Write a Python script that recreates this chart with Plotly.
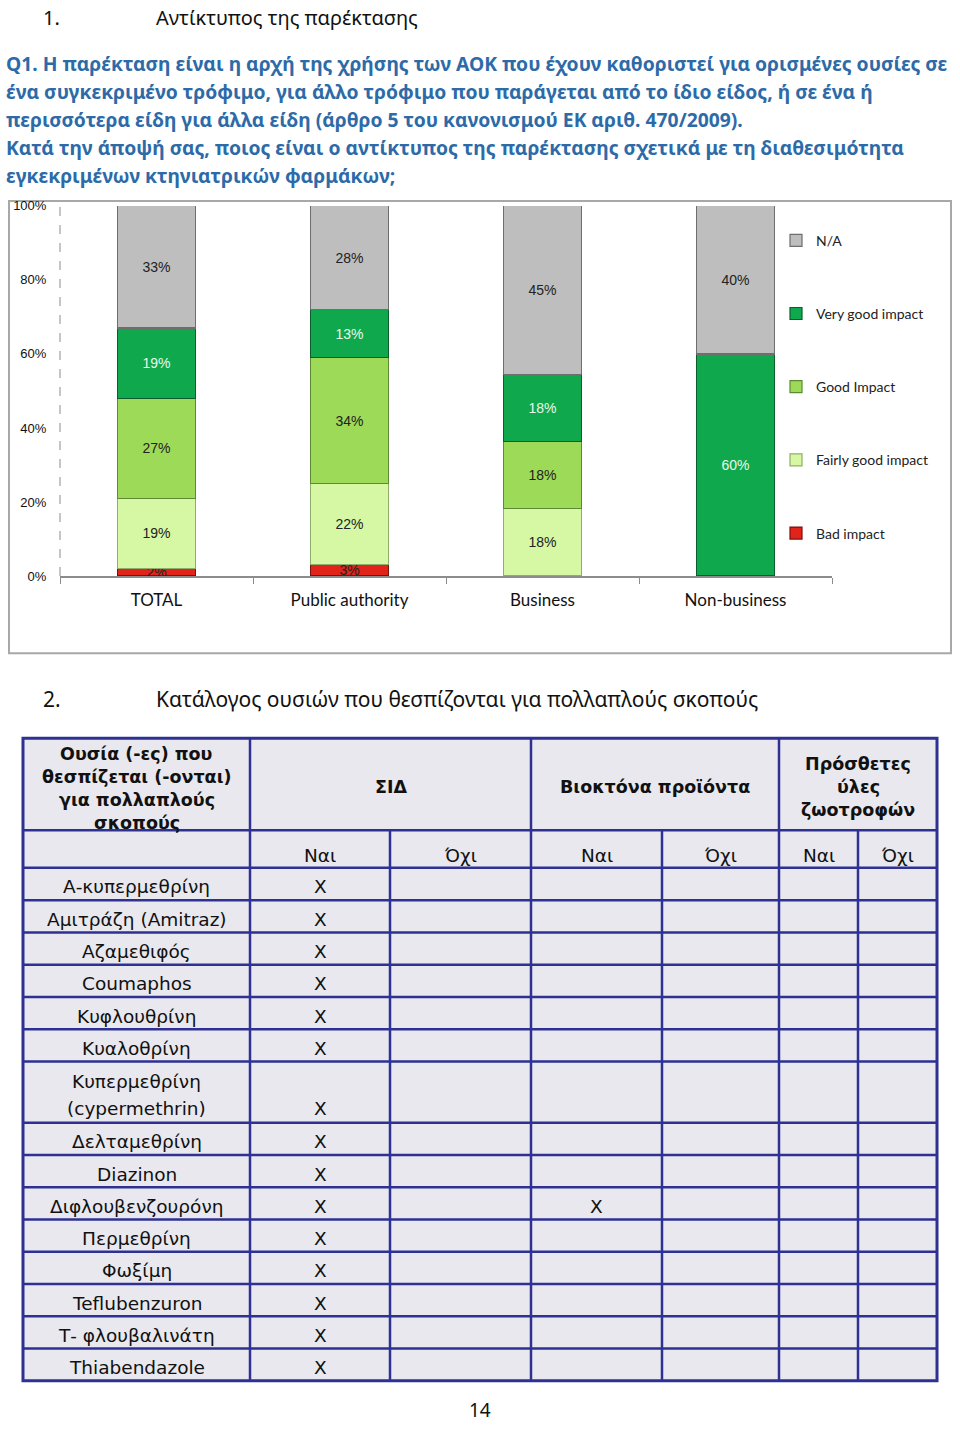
import plotly.graph_objects as go

W, H = 960, 1430
def X(px): return px / W
def Y(py): return 1 - py / H

# ---------------- chart data ----------------
categories = ["TOTAL", "Public authority", "Business", "Non-business"]
bad = [2, 3, 0, 0]
fairly_good = [19, 22, 18, 0]
good = [27, 34, 18, 0]
very_good = [19, 13, 18, 60]
not_available = [33, 28, 45, 40]
series_names = ["Bad impact", "Fairly good impact", "Good Impact", "Very good impact", "N/A"]
y_ticks = [0, 20, 40, 60, 80, 100]
y_tick_labels = ["0%", "20%", "40%", "60%", "80%", "100%"]

# ---------------- table data ----------------
first_header = ["Ουσία (-ες) που", "θεσπίζεται (-ονται)", "για πολλαπλούς", "σκοπούς"]
group_headers = [["ΣΙΔ"], ["Βιοκτόνα προϊόντα"], ["Πρόσθετες", "ύλες", "ζωοτροφών"]]
sub_headers = ["Ναι", "Όχι", "Ναι", "Όχι", "Ναι", "Όχι"]
substances = [["Α-κυπερμεθρίνη"], ["Αμιτράζη (Amitraz)"], ["Αζαμεθιφός"], ["Coumaphos"],
              ["Κυφλουθρίνη"], ["Κυαλοθρίνη"], ["Κυπερμεθρίνη", "(cypermethrin)"],
              ["Δελταμεθρίνη"], ["Diazinon"], ["Διφλουβενζουρόνη"], ["Περμεθρίνη"],
              ["Φωξίμη"], ["Teflubenzuron"], ["Τ- φλουβαλινάτη"], ["Thiabendazole"]]
sid_yes = ["X"] * 15
sid_no = [""] * 15
biocide_yes = ["", "", "", "", "", "", "", "", "", "X", "", "", "", "", ""]
biocide_no = [""] * 15
feed_yes = [""] * 15
feed_no = [""] * 15

# ---------------- figure ----------------
colors = ["#E2231A", "#D6F8A4", "#9DDA58", "#0FA84C", "#BEBEBE"]
edges = ["#7A1010", "#8FAE6A", "#5E8A33", "#0A5E2C", "#6E6E6E"]
text_colors = ["#222222", "#222222", "#222222", "#EAF7EA", "#222222"]
series = [bad, fairly_good, good, very_good, not_available]
ranks = [5, 4, 3, 2, 1]

fig = go.Figure()
for i, (name, vals) in enumerate(zip(series_names, series)):
    fig.add_trace(go.Bar(
        x=categories, y=vals, name=name,
        marker=dict(color=colors[i], line=dict(color=edges[i], width=1.2)),
        text=[f"{v}%" if v else "" for v in vals],
        textposition="inside", insidetextanchor="middle",
        textfont=dict(family="Liberation Sans, Arial", size=14, color=text_colors[i]),
        legendgroup=name, legendrank=ranks[i],
        hoverinfo="skip",
    ))

head_font = "Noto Sans, Open Sans"

fig.update_layout(
    width=W, height=H,
    margin=dict(l=0, r=0, t=0, b=0),
    paper_bgcolor="white", plot_bgcolor="white",
    barmode="stack", barnorm="percent", bargap=0.595,
    uniformtext=dict(minsize=14, mode="show"),
    showlegend=True,
    legend=dict(x=X(776), y=Y(220), xanchor="left", yanchor="top",
                traceorder="grouped", tracegroupgap=52,
                font=dict(family="Lato, Open Sans", size=14, color="#222"),
                bgcolor="rgba(0,0,0,0)", itemwidth=30),
    xaxis=dict(domain=[X(60), X(832)], showline=True, linecolor="#8C8C8C", linewidth=1.5,
               ticks="outside", ticklen=6, tickcolor="#8C8C8C", tickson="boundaries",
               tickfont=dict(family="Lato, Open Sans", size=17, color="#111"),
               ticklabelstandoff=8,
               anchor="y", fixedrange=True),
    yaxis=dict(domain=[Y(575), Y(201)], range=[0, 100], showgrid=False, zeroline=False,
               showline=False, tickvals=y_ticks, ticktext=y_tick_labels,
               tickfont=dict(family="Liberation Sans, Arial", size=13, color="#111"),
               ticks="outside", ticklen=10, tickcolor="rgba(0,0,0,0)", fixedrange=True),
)

shapes = []
annotations = []

# chart frame
shapes.append(dict(type="rect", xref="paper", yref="paper", x0=X(9), x1=X(951), y0=Y(653), y1=Y(196),
                   line=dict(color="#A8A8A8", width=2), fillcolor="rgba(0,0,0,0)", layer="below"))
# dashed y-axis line
shapes.append(dict(type="line", xref="x domain", yref="y", x0=0, x1=0, y0=0, y1=100,
                   line=dict(color="#A0A0A0", width=1.2, dash="dash")))

def text(px, py, s, size, family, color="#111", bold=False, anchor="left", yanchor="middle"):
    if bold:
        s = f"<b>{s}</b>"
    annotations.append(dict(xref="paper", yref="paper", x=X(px), y=Y(py), text=s,
                            showarrow=False, xanchor=anchor, yanchor=yanchor, borderpad=0,
                            font=dict(family=family, size=size, color=color)))

# headings
text(42, 11, "1.", 20, head_font)
text(155, 11, "Αντίκτυπος της παρέκτασης", 20, head_font)
q1_lines = [
    "Q1. Η παρέκταση είναι η αρχή της χρήσης των ΑΟΚ που έχουν καθοριστεί για ορισμένες ουσίες σε",
    "ένα συγκεκριμένο τρόφιμο, για άλλο τρόφιμο που παράγεται από το ίδιο είδος, ή σε ένα ή",
    "περισσότερα είδη για άλλα είδη (άρθρο 5 του κανονισμού ΕΚ αριθ. 470/2009).",
    "Κατά την άποψή σας, ποιος είναι ο αντίκτυπος της παρέκτασης σχετικά με τη διαθεσιμότητα",
    "εγκεκριμένων κτηνιατρικών φαρμάκων;",
]
for k, line in enumerate(q1_lines):
    text(5, 57.5 + k * 28.3, line, 19.3, head_font, color="#2D6BA8", bold=True)

text(42, 699, "2.", 21, head_font)
text(155, 699, "Κατάλογος ουσιών που θεσπίζονται για πολλαπλούς σκοπούς", 21, head_font)

# ---------------- table ----------------
col_edges = [23, 250, 390, 531, 662, 779, 858, 937]
t_top, h1_bot, h2_bot = 739, 832, 870
unit = 32.6
navy = "#2E3192"
tfont = "DejaVu Sans, Noto Sans"
dy = 3

row_tops = [h2_bot]
for lines in substances:
    row_tops.append(row_tops[-1] + (unit if len(lines) == 1 else unit * 1.9))
t_bot = row_tops[-1]

shapes.append(dict(type="rect", xref="paper", yref="paper", x0=X(col_edges[0]), x1=X(col_edges[-1]),
                   y0=Y(t_bot), y1=Y(t_top), fillcolor="#E8E8EE", line=dict(color=navy, width=3),
                   layer="below"))
def hline(py, x0, x1):
    shapes.append(dict(type="line", xref="paper", yref="paper", x0=X(x0), x1=X(x1), y0=Y(py), y1=Y(py),
                       line=dict(color=navy, width=2.5)))
def vline(px, y0, y1):
    shapes.append(dict(type="line", xref="paper", yref="paper", x0=X(px), x1=X(px), y0=Y(y0), y1=Y(y1),
                       line=dict(color=navy, width=2.5)))

for rt in [h1_bot] + row_tops[:-1]:
    hline(rt, col_edges[0], col_edges[-1])
for ce in [250, 531, 779]:
    vline(ce, t_top, h1_bot)
for ce in col_edges[1:-1]:
    vline(ce, h1_bot, t_bot)

# header texts
for k, line in enumerate(first_header):
    text((col_edges[0] + col_edges[1]) / 2, 752 + dy + k * 23.3, line, 17.5, tfont, bold=True, anchor="center")
group_spans = [(250, 531), (531, 779), (779, 937)]
for (a, b), lines in zip(group_spans, group_headers):
    n = len(lines)
    cy = (t_top + h1_bot) / 2 + dy
    for k, line in enumerate(lines):
        text((a + b) / 2, cy + (k - (n - 1) / 2) * 23.3, line, 17.5, tfont, bold=True, anchor="center")
for j, sh in enumerate(sub_headers):
    text((col_edges[j + 1] + col_edges[j + 2]) / 2, 854 + dy, sh, 18.5, tfont, anchor="center")

# body
marks = [sid_yes, sid_no, biocide_yes, biocide_no, feed_yes, feed_no]
for i, lines in enumerate(substances):
    top, bot = row_tops[i], row_tops[i + 1]
    cy = (top + bot) / 2 + dy
    n = len(lines)
    ys = [cy + (k - (n - 1) / 2) * 28 for k in range(n)]
    for k, line in enumerate(lines):
        text((col_edges[0] + col_edges[1]) / 2, ys[k], line, 18.5, tfont, anchor="center")
    for j, col in enumerate(marks):
        if col[i]:
            text((col_edges[j + 1] + col_edges[j + 2]) / 2, ys[-1], col[i], 18.5, tfont, anchor="center")

text(480, 1418, "14", 19, head_font, anchor="center")

fig.update_layout(shapes=shapes, annotations=annotations)
fig.write_html("out.html")
